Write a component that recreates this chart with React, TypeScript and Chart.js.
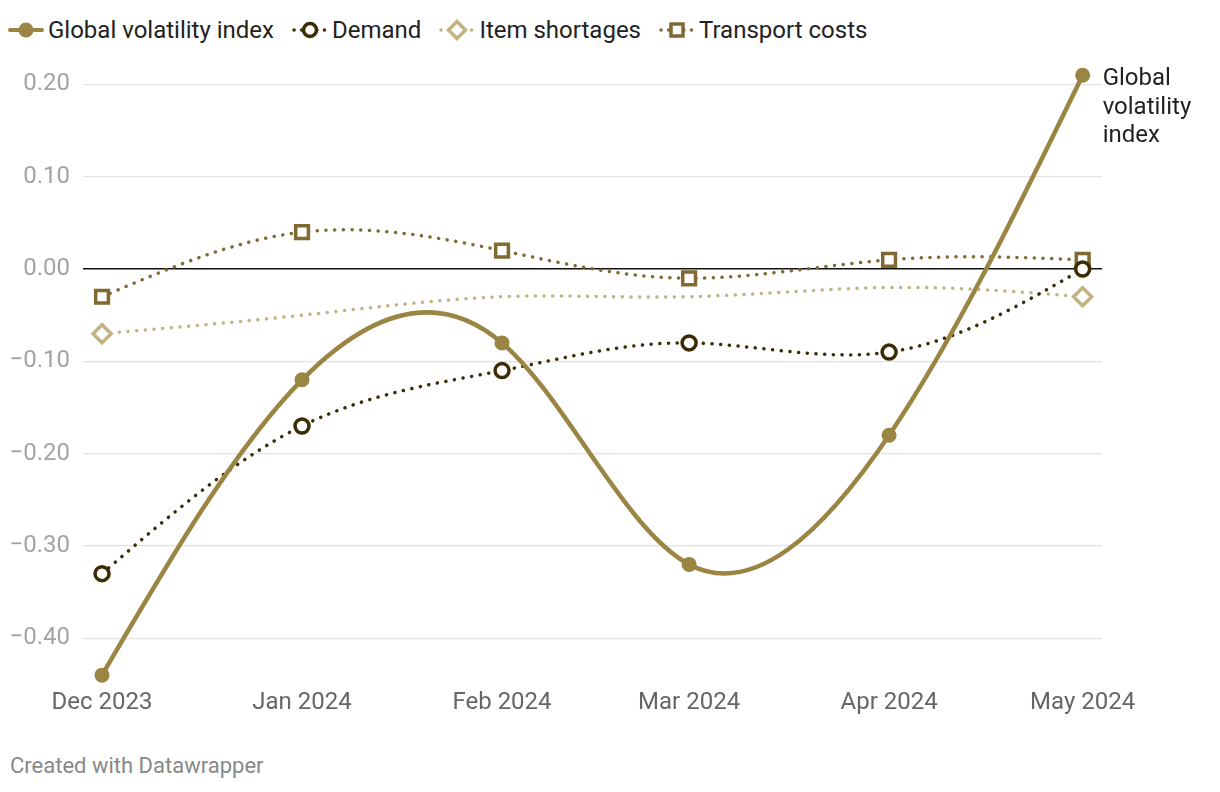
import React, { useEffect, useRef } from "react";
import { Chart, registerables } from "chart.js";

Chart.register(...registerables);

const categories = ["Dec 2023", "Jan 2024", "Feb 2024", "Mar 2024", "Apr 2024", "May 2024"];
const dayOffsets = [0, 31, 62, 91, 122, 152];
const globalVolatility = [-0.44, -0.12, -0.08, -0.32, -0.18, 0.21];
const demand = [-0.33, -0.17, -0.11, -0.08, -0.09, 0.0];
const itemShortages = [-0.07, -0.05, -0.03, -0.03, -0.02, -0.03];
const transportCosts = [-0.03, 0.04, 0.02, -0.01, 0.01, 0.01];
const yTicks = [-0.4, -0.3, -0.2, -0.1, 0.0, 0.1, 0.2];

const C_GLOBAL = "#9a8543";
const C_DEMAND = "#3b2c06";
const C_SHORT = "#c5b283";
const C_TRANS = "#806a32";

const FONT = "Roboto, 'Noto Sans', sans-serif";
const DASH = [0.1, 8.6];

// natural cubic spline control points (same scheme as d3.curveNatural)
function naturalControls(x: number[]) {
  const n = x.length - 1;
  const a = new Array(n), b = new Array(n), r = new Array(n);
  a[0] = 0; b[0] = 2; r[0] = x[0] + 2 * x[1];
  for (let i = 1; i < n - 1; ++i) { a[i] = 1; b[i] = 4; r[i] = 4 * x[i] + 2 * x[i + 1]; }
  a[n - 1] = 2; b[n - 1] = 7; r[n - 1] = 8 * x[n - 1] + x[n];
  for (let i = 1; i < n; ++i) { const m = a[i] / b[i - 1]; b[i] -= m; r[i] -= m * r[i - 1]; }
  a[n - 1] = r[n - 1] / b[n - 1];
  for (let i = n - 2; i >= 0; --i) a[i] = (r[i] - a[i + 1]) / b[i];
  b[n - 1] = (x[n] + a[n - 1]) / 2;
  for (let i = 0; i < n - 1; ++i) b[i] = 2 * x[i + 1] - a[i + 1];
  return [a, b];
}

const naturalCurve = {
  id: "naturalCurve",
  beforeDatasetDraw(chart: any, args: any) {
    const meta = chart.getDatasetMeta(args.index);
    const pts = meta.data;
    if (!pts || pts.length < 3) return;
    const xs = pts.map((p: any) => p.x);
    const ys = pts.map((p: any) => p.y);
    const [ax, bx] = naturalControls(xs);
    const [ay, by] = naturalControls(ys);
    for (let i = 0; i < pts.length - 1; i++) {
      pts[i].cp2x = ax[i];
      pts[i].cp2y = ay[i];
      pts[i + 1].cp1x = bx[i];
      pts[i + 1].cp1y = by[i];
    }
    pts[0].cp1x = pts[0].x; pts[0].cp1y = pts[0].y;
    const last = pts[pts.length - 1];
    last.cp2x = last.x; last.cp2y = last.y;
    if (meta.dataset) {
      meta.dataset._pointsUpdated = true;
      meta.dataset._path = undefined;
    }
  },
};

function LegendIcon({ kind, color }: { kind: string; color: string }) {
  const dotted = kind !== "global";
  return (
    <svg width="36" height="22" style={{ display: "block" }}>
      {dotted ? (
        <line x1="2" y1="11" x2="34" y2="11" stroke={color} strokeWidth="3.5" strokeDasharray="0.1 7.5" strokeLinecap="round" />
      ) : (
        <line x1="2" y1="11" x2="34" y2="11" stroke={color} strokeWidth="4" strokeLinecap="round" />
      )}
      {kind === "global" && <circle cx="18" cy="11" r="7.5" fill={color} />}
      {kind === "demand" && <circle cx="18" cy="11" r="6.5" fill="#fff" stroke={color} strokeWidth="3.5" />}
      {kind === "short" && (
        <rect x="12" y="5" width="12" height="12" fill="#fff" stroke={color} strokeWidth="3.5" transform="rotate(45 18 11)" />
      )}
      {kind === "trans" && <rect x="12" y="5" width="12" height="12" fill="#fff" stroke={color} strokeWidth="3.5" />}
    </svg>
  );
}

export default function App() {
  const ref = useRef<HTMLCanvasElement | null>(null);

  useEffect(() => {
    if (!ref.current) return;
    const toPts = (arr: number[]) => arr.map((v, i) => ({ x: dayOffsets[i], y: v }));

    const endLabel = {
      id: "endLabel",
      afterDatasetsDraw(chart: any) {
        const meta = chart.getDatasetMeta(0);
        const p = meta.data[meta.data.length - 1];
        const ctx = chart.ctx;
        ctx.save();
        ctx.font = `24px ${FONT}`;
        ctx.fillStyle = "#222";
        ctx.textBaseline = "middle";
        ctx.textAlign = "left";
        const lines = ["Global", "volatility", "index"];
        lines.forEach((l, i) => ctx.fillText(l, p.x + 20, p.y + 4 + i * 28.5));
        ctx.restore();
      },
    };

    const chart = new Chart(ref.current, {
      type: "line",
      data: {
        datasets: [
          {
            label: "Global volatility index",
            data: toPts(globalVolatility),
            borderColor: C_GLOBAL,
            backgroundColor: C_GLOBAL,
            borderWidth: 4.5,
            pointRadius: 7.5,
            pointBorderWidth: 0,
            pointBackgroundColor: C_GLOBAL,
            tension: 0.4,
            clip: false,
          },
          {
            label: "Demand",
            data: toPts(demand),
            borderColor: C_DEMAND,
            borderWidth: 3.5,
            borderDash: DASH,
            borderCapStyle: "round",
            pointRadius: 7,
            pointBorderWidth: 3.5,
            pointBackgroundColor: "#fff",
            pointBorderColor: C_DEMAND,
            tension: 0.4,
            clip: false,
          },
          {
            label: "Item shortages",
            data: toPts(itemShortages),
            borderColor: C_SHORT,
            borderWidth: 3.5,
            borderDash: DASH,
            borderCapStyle: "round",
            pointStyle: "rectRot",
            pointRadius: [9, 0, 0, 0, 0, 9],
            pointBorderWidth: 3.5,
            pointBackgroundColor: "#fff",
            pointBorderColor: C_SHORT,
            tension: 0.4,
            clip: false,
          },
          {
            label: "Transport costs",
            data: toPts(transportCosts),
            borderColor: C_TRANS,
            borderWidth: 3.5,
            borderDash: DASH,
            borderCapStyle: "round",
            pointStyle: "rect",
            pointRadius: 9,
            pointBorderWidth: 3.5,
            pointBackgroundColor: "#fff",
            pointBorderColor: C_TRANS,
            tension: 0.4,
            clip: false,
          },
        ] as any,
      },
      options: {
        animation: false,
        responsive: false,
        maintainAspectRatio: false,
        layout: { padding: { top: 40, right: 118, left: 0, bottom: 0 } },
        plugins: { legend: { display: false }, tooltip: { enabled: false } },
        scales: {
          x: {
            type: "linear",
            min: -2.95,
            max: 155,
            grid: { display: false, drawTicks: false },
            border: { display: false },
            afterBuildTicks: (s: any) => {
              s.ticks = dayOffsets.map((v) => ({ value: v }));
            },
            afterFit: (s: any) => {
              s.height = 62;
            },
            ticks: {
              padding: 0,
              color: "#666",
              font: { family: FONT, size: 24 },
              maxRotation: 0,
              autoSkip: false,
              callback: (v: any) => {
                const i = dayOffsets.indexOf(Number(v));
                return i >= 0 ? categories[i] : "";
              },
            },
          },
          y: {
            min: -0.455,
            max: 0.22,
            border: { display: false },
            grid: {
              drawTicks: false,
              color: (c: any) => (Math.abs(c.tick.value) < 1e-9 ? "#111" : "#e2e2e2"),
              lineWidth: (c: any) => (Math.abs(c.tick.value) < 1e-9 ? 1.6 : 1.2),
            },
            afterBuildTicks: (s: any) => {
              s.ticks = yTicks.map((v) => ({ value: v }));
            },
            afterFit: (s: any) => {
              s.width = 83;
            },
            ticks: {
              padding: 13,
              color: "#a3a3a3",
              font: { family: FONT, size: 24 },
              callback: (v: any) => {
                const n = Number(v);
                if (Math.abs(n) < 1e-9) return "0.00";
                return n < 0 ? "\u2212" + Math.abs(n).toFixed(2) : n.toFixed(2);
              },
            },
          },
        },
      } as any,
      plugins: [naturalCurve, endLabel],
    });
    return () => chart.destroy();
  }, []);

  const legend = [
    { kind: "global", color: C_GLOBAL, label: "Global volatility index" },
    { kind: "demand", color: C_DEMAND, label: "Demand" },
    { kind: "short", color: C_SHORT, label: "Item shortages" },
    { kind: "trans", color: C_TRANS, label: "Transport costs" },
  ];

  return (
    <div style={{ position: "fixed", left: 0, top: 0, width: 1220, height: 792, background: "#fff", fontFamily: FONT, overflow: "hidden" }}>
      <div style={{ position: "absolute", left: 8, top: 15, display: "flex", alignItems: "center", gap: 0 }}>
        {legend.map((l, i) => (
          <div key={i} style={{ display: "flex", alignItems: "center", marginRight: 18 }}>
            <LegendIcon kind={l.kind} color={l.color} />
            <span style={{ fontSize: 24, color: "#222", marginLeft: 4, lineHeight: "30px" }}>{l.label}</span>
          </div>
        ))}
      </div>
      <canvas ref={ref} width={1220} height={725} style={{ position: "absolute", left: 0, top: 26, width: 1220, height: 725 }} />
      <div style={{ position: "absolute", left: 10, top: 753, fontSize: 22, color: "#888" }}>Created with Datawrapper</div>
    </div>
  );
}
